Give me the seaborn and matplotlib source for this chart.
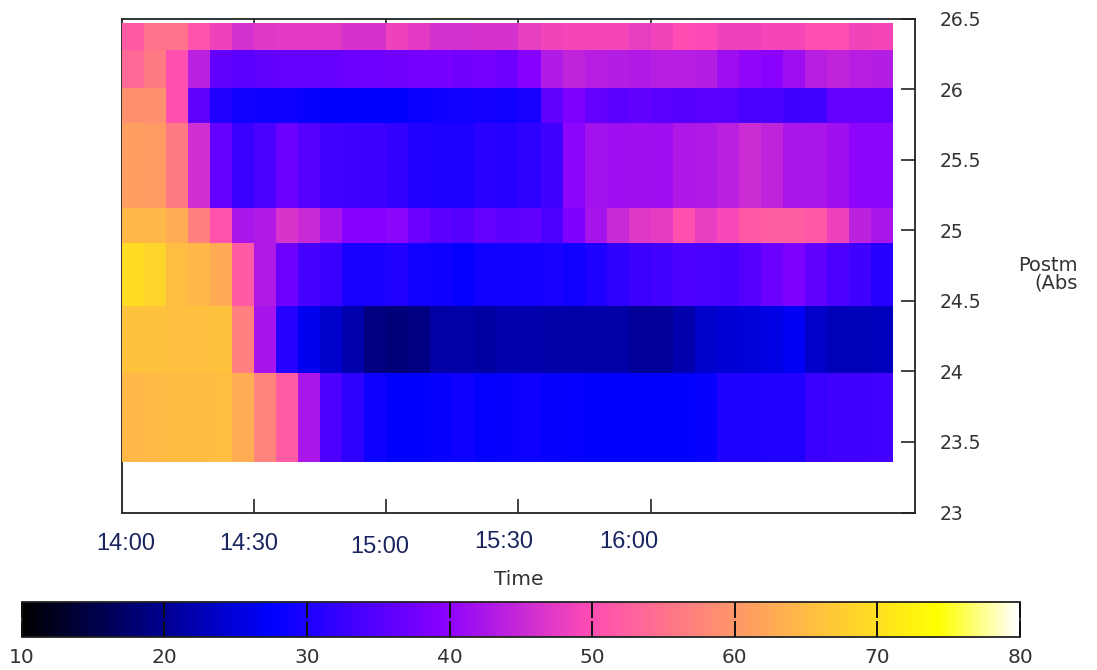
import numpy as np
import pandas as pd
import matplotlib.pyplot as plt
import seaborn as sns

sns.set_style("white")
plt.rcParams["font.family"] = ["DejaVu Sans"]

# 5-minute time bins from 14:00 (35 bins, axis runs to 17:00)
time_bins = list(pd.date_range("14:00", periods=35, freq="5min").strftime("%H:%M"))
bin_minutes = 5
axis_minutes = 180

# band edges on the y axis (ascending) and one list of values per band
depth_edges = [23.36, 23.99, 24.46, 24.91, 25.16, 25.76, 26.01, 26.28, 26.47]

row_2336 = [64.6, 64.9, 65.0, 65.2, 65.4, 63.0, 57.5, 52.0, 42.5, 34.3, 31.5, 28.7,
            27.5, 27.5, 28.3, 28.7, 28.0, 28.2, 28.7, 28.3, 28.0, 27.5, 27.5, 27.5,
            27.5, 27.5, 28.3, 30.0, 30.0, 30.5, 30.5, 32.5, 33.0, 33.0, 33.3]
row_2399 = [65.8, 66.0, 65.7, 65.6, 65.9, 57.0, 42.0, 30.7, 26.5, 24.0, 22.0, 19.0,
            18.4, 18.8, 21.3, 21.5, 21.2, 21.8, 22.0, 21.5, 21.5, 21.5, 21.5, 20.5,
            20.5, 22.0, 24.0, 24.5, 24.8, 25.7, 26.8, 23.8, 22.6, 22.6, 23.0]
row_2446 = [69.6, 68.3, 65.3, 64.6, 62.7, 51.8, 43.0, 37.3, 33.7, 32.5, 29.5, 29.7,
            30.5, 29.0, 28.7, 28.0, 29.0, 29.0, 29.3, 29.6, 29.0, 30.2, 31.5, 32.7,
            33.3, 34.3, 34.0, 33.7, 35.0, 37.0, 38.7, 36.0, 34.3, 33.0, 31.0]
row_2491 = [64.5, 64.5, 63.0, 57.0, 50.5, 42.5, 43.0, 46.5, 45.0, 42.0, 39.5, 39.3,
            40.0, 37.0, 35.5, 35.0, 36.3, 35.5, 36.0, 34.3, 38.7, 42.0, 45.0, 47.0,
            47.5, 50.3, 48.0, 49.3, 51.5, 52.3, 52.3, 51.5, 48.5, 44.0, 42.5]
row_2516 = [61.0, 60.5, 56.2, 45.8, 36.3, 32.5, 34.0, 37.0, 35.0, 33.5, 33.0, 32.7,
            32.0, 30.5, 30.0, 30.0, 31.3, 31.0, 31.5, 33.0, 40.0, 41.8, 41.3, 41.5,
            41.3, 42.7, 43.0, 43.8, 45.5, 44.3, 42.5, 42.5, 41.5, 40.0, 40.0]
row_2576 = [59.2, 59.2, 50.4, 35.9, 30.3, 29.0, 28.8, 28.6, 28.3, 27.6, 27.5, 27.5,
            27.6, 28.5, 28.8, 29.0, 29.2, 29.0, 29.5, 35.8, 38.5, 36.3, 35.5, 36.0,
            35.5, 35.0, 35.5, 35.2, 34.0, 34.0, 33.0, 33.5, 36.3, 36.3, 36.3]
row_2601 = [53.5, 56.0, 50.4, 43.7, 36.0, 35.5, 36.0, 36.3, 36.5, 36.5, 37.0, 37.3,
            37.5, 38.0, 38.0, 37.5, 38.0, 37.3, 39.5, 42.9, 44.4, 43.6, 43.2, 42.9,
            43.6, 43.6, 43.2, 41.2, 40.2, 39.7, 41.3, 43.6, 44.4, 43.6, 43.2]
row_2628 = [51.8, 55.2, 55.2, 50.5, 48.5, 46.0, 47.0, 47.3, 47.3, 47.3, 46.2, 46.2,
            48.4, 47.3, 45.9, 45.9, 46.2, 46.2, 48.0, 48.6, 49.0, 49.0, 49.0, 48.0,
            48.6, 49.8, 49.5, 48.3, 48.3, 49.0, 49.0, 50.0, 50.0, 48.6, 49.0]

xtick_minutes = [30, 60, 90, 120]
xlabel_minutes = [0, 30, 60, 90, 120]
xlabel_text = ["14:00", "14:30", "15:00", "15:30", "16:00"]
ytick_values = [23, 23.5, 24, 24.5, 25, 25.5, 26, 26.5]
cbar_ticks = [10, 20, 30, 40, 50, 60, 70, 80]

# pasted-looking time labels sit a bit off their ticks (pixels)
xlabel_nudge = [(3.5, -31.5), (-5, -31.5), (-7, -34.5), (-15, -29.5), (-21.5, -29.5)]

# expand the bands onto a fine uniform grid so seaborn can draw it
y_top, y_bot, step = 26.5, 23.0, 0.01
n_rows = int(round((y_top - y_bot) / step))
centers = y_top - (np.arange(n_rows) + 0.5) * step
bands = np.array([row_2336, row_2399, row_2446, row_2491,
                  row_2516, row_2576, row_2601, row_2628])
band_idx = np.searchsorted(depth_edges, centers) - 1
n_cols = axis_minutes // bin_minutes
grid = np.full((n_rows, n_cols), np.nan)
inside = (band_idx >= 0) & (band_idx < len(bands))
grid[inside, :len(time_bins)] = bands[band_idx[inside]]
df = pd.DataFrame(grid, columns=time_bins + ["17:00"])

fig = plt.figure(figsize=(10.97, 6.70), dpi=100)
ax = fig.add_axes([0.11121, 0.23507, 0.72288, 0.73731])
cax = fig.add_axes([0.01978, 0.04970, 0.91003, 0.05134])

sns.heatmap(df, ax=ax, cmap="gnuplot2", vmin=10, vmax=80, cbar_ax=cax,
            cbar_kws={"orientation": "horizontal"},
            xticklabels=False, yticklabels=False)

# frame
for name, sp in ax.spines.items():
    sp.set_visible(True)
    sp.set_linewidth(1.3)
    sp.set_edgecolor("#222222")
ax.spines["left"].set_zorder(0.5)
ax.set_axisbelow(True)

ax.set_xlim(0, n_cols)
ax.set_ylim(n_rows, 0)
ax.set_xticks([m / bin_minutes for m in xtick_minutes])
ax.set_xticklabels([])
ax.tick_params(axis="x", direction="in", length=10, width=1.2, color="#222222",
               bottom=True, top=True, labelbottom=False)

ax.set_yticks([(y_top - v) / step for v in ytick_values])
ax.set_yticklabels([f"{v:g}" for v in ytick_values], rotation=0)
ax.yaxis.tick_right()
ax.tick_params(axis="y", direction="in", length=10, width=1.2, color="#222222",
               left=False, right=True, labelleft=False, labelright=True,
               pad=18, labelsize=13.5, labelcolor="#333333")
ax.set_xlabel("")
ax.set_ylabel("")

for lab, m, (dx, dy) in zip(xlabel_text, xlabel_minutes, xlabel_nudge):
    ax.annotate(lab, xy=(m / bin_minutes, 0), xycoords=("data", "axes fraction"),
                textcoords="offset pixels", xytext=(dx, dy), ha="center", va="center",
                fontsize=17, color="#1a2560", family=["Liberation Sans"])

ax.text(0.5, -(579 - 512.5) / 494, "Time", transform=ax.transAxes,
        ha="center", va="center", fontsize=14.5, color="#333333")
fig.text(1078 / 1097, 1 - 274 / 670, "Postm\n(Abs", ha="right", va="center",
         multialignment="right", fontsize=14, linespacing=0.9, color="#333333")

# colorbar
cb = ax.collections[0].colorbar
cb.set_ticks(cbar_ticks)
cb.outline.set_linewidth(1.3)
cb.outline.set_edgecolor("#222222")
cax.set_axisbelow(False)
cax.tick_params(direction="in", length=11.5, width=1.4, color="#111111",
                top=True, bottom=True, labelsize=14.5, labelcolor="#333333", pad=8)

fig.savefig("out.png", dpi=100)
